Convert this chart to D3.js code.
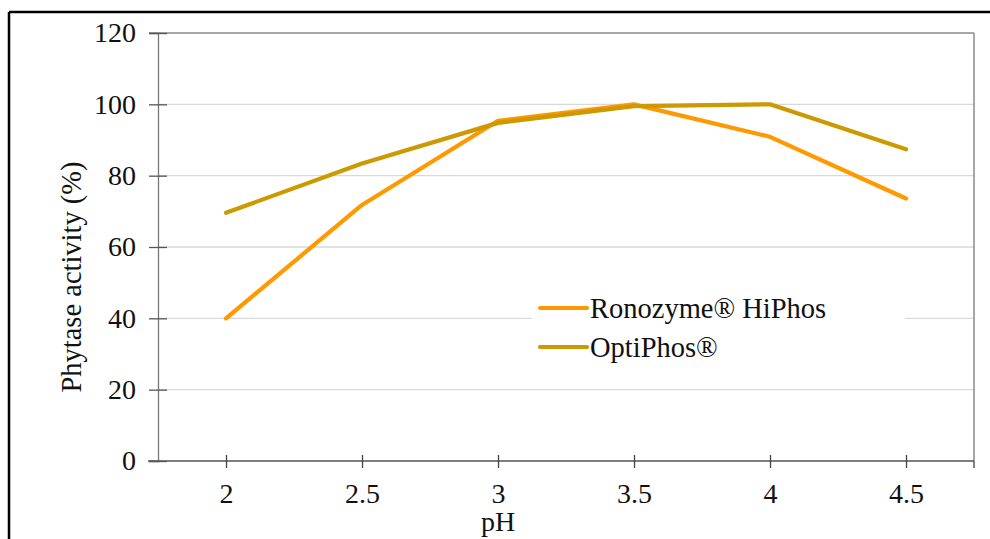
<!DOCTYPE html>
<html><head><meta charset="utf-8">
<script src="https://cdn.jsdelivr.net/npm/d3@7"></script>
<style>html,body{margin:0;padding:0;background:#fff;}svg{display:block;}</style>
</head><body>
<svg id="chart" width="990" height="539"></svg>
<script>
const categories = ["2", "2.5", "3", "3.5", "4", "4.5"];
const ronozyme = [40, 71.8, 95.4, 100, 90.9, 73.6];
const optiphos = [69.6, 83.4, 94.8, 99.5, 100, 87.4];
const yTicks = [0, 20, 40, 60, 80, 100, 120];
const seriesNames = ["Ronozyme® HiPhos", "OptiPhos®"];
const seriesColors = ["#ff9900", "#cc9900"];

const svg = d3.select("#chart");
const font = "'Liberation Serif','Times New Roman',serif";
const L = 158, R = 974, T = 33, B = 461;

// outer frame
svg.append("line").attr("x1", 9).attr("x2", 990).attr("y1", 12).attr("y2", 12).attr("stroke", "#000").attr("stroke-width", 2.5);
svg.append("line").attr("x1", 9).attr("x2", 9).attr("y1", 12).attr("y2", 539).attr("stroke", "#000").attr("stroke-width", 2.5);

const x = d3.scalePoint().domain(categories).range([L, R]).padding(0.5);
const y = d3.scaleLinear().domain([0, 120]).range([B, T]);

// gridlines
svg.append("g").selectAll("line").data(yTicks.filter(v => v > 0 && v < 120)).join("line")
  .attr("x1", L).attr("x2", R).attr("y1", d => y(d)).attr("y2", d => y(d))
  .attr("stroke", "#d9d9d9").attr("stroke-width", 1.3);

// plot border top & right
svg.append("line").attr("x1", 149).attr("x2", R).attr("y1", y(120)).attr("y2", y(120)).attr("stroke", "#8a8a8a").attr("stroke-width", 1.5);
svg.append("line").attr("x1", R).attr("x2", R).attr("y1", T).attr("y2", B).attr("stroke", "#8a8a8a").attr("stroke-width", 1.5);

// y axis
const yAxis = d3.axisLeft(y).tickValues(yTicks).tickSize(9).tickPadding(8).tickFormat(d3.format("d"));
const gy = svg.append("g").attr("transform", `translate(${L},0)`).call(yAxis);
gy.select(".domain").attr("stroke", "#777").attr("stroke-width", 1.3);
gy.selectAll(".tick line").attr("stroke", "#555").attr("stroke-width", 1.3).attr("x2", 9).attr("x1", -9);
gy.selectAll(".tick text").attr("font-family", font).attr("font-size", 28).attr("fill", "#111").attr("x", -22);

// x axis
const xAxis = d3.axisBottom(x).tickSize(7).tickPadding(18);
const gx = svg.append("g").attr("transform", `translate(0,${B})`).call(xAxis);
gx.select(".domain").attr("d", `M${L - 10},0H${R}`).attr("stroke", "#555").attr("stroke-width", 1.3);
gx.selectAll(".tick line").attr("stroke", "#444").attr("stroke-width", 1.3).attr("y1", -6).attr("y2", 7);
gx.selectAll(".tick text").attr("font-family", font).attr("font-size", 28).attr("fill", "#111").attr("dy", "0.6em");
gx.append("line").attr("x1", R).attr("x2", R).attr("y1", 0).attr("y2", 7).attr("stroke", "#444").attr("stroke-width", 1.3);

// axis titles
svg.append("text").attr("x", x("3")).attr("y", 531).attr("text-anchor", "middle")
  .attr("font-family", font).attr("font-size", 28).attr("fill", "#111").text("pH");
svg.append("text").attr("transform", "translate(81,277) rotate(-90)").attr("text-anchor", "middle")
  .attr("font-family", font).attr("font-size", 28.5).attr("fill", "#111").text("Phytase activity  (%)");

// legend background
svg.append("rect").attr("x", 532).attr("y", 290).attr("width", 373).attr("height", 72).attr("fill", "#fff");

// lines
const line = d3.line().x((d, i) => x(categories[i])).y(d => y(d));
svg.append("path").datum(ronozyme).attr("d", line).attr("fill", "none")
  .attr("stroke", seriesColors[0]).attr("stroke-width", 4.2)
  .attr("stroke-linejoin", "round").attr("stroke-linecap", "round");
svg.append("path").datum(optiphos).attr("d", line).attr("fill", "none")
  .attr("stroke", seriesColors[1]).attr("stroke-width", 4.2)
  .attr("stroke-linejoin", "round").attr("stroke-linecap", "round");

// legend
const lg = svg.append("g");
seriesNames.forEach((n, i) => {
  const yy = 308 + i * 39;
  lg.append("line").attr("x1", 540).attr("x2", 587).attr("y1", yy).attr("y2", yy)
    .attr("stroke", seriesColors[i]).attr("stroke-width", 4.2).attr("stroke-linecap", "round");
  lg.append("text").attr("x", 590).attr("y", yy).attr("dy", "0.35em")
    .attr("font-family", font).attr("font-size", 28.5).attr("fill", "#111").text(n);
});
</script>
</body></html>
